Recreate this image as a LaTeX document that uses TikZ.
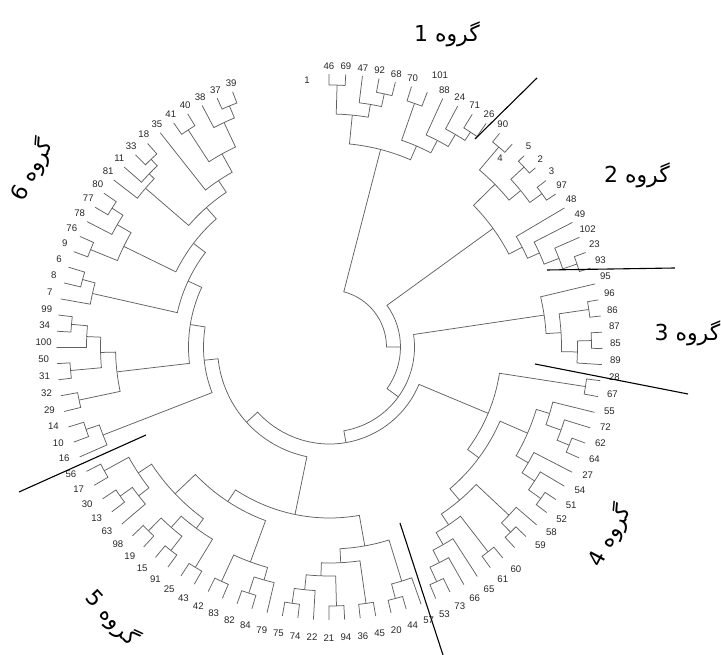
\documentclass[tikz,border=0pt]{standalone}
\usepackage{fontspec}
\setmainfont{Liberation Sans}
\newfontfamily\arabicfont[Script=Arabic]{DejaVu Sans}
\TeXXeTstate=1
\newcommand\leafang[2]{%
  \pgfmathsetmacro\lamv{93.5-3.40*#2}%
  \pgfmathsetmacro\thv{\lamv-2.0*cos(\lamv)}%
  \expandafter\xdef\csname A@#1\endcsname{\thv}%
  \expandafter\xdef\csname R@#1\endcsname{273}%
}
\newcommand\lf[3]{%
  \leafang{#1}{#2}%
  \pgfmathsetmacro\lxv{286*cos(\lamv)}%
  \pgfmathsetmacro\lyv{286*sin(\lamv)-5}%
  \node[lab] (t#1) at (\lxv pt,\lyv pt) {#3};%
}
\newcommand\nd[4]{%
  \edef\nda{\csname A@#2\endcsname}\edef\ndb{\csname A@#3\endcsname}%
  \edef\nra{\csname R@#2\endcsname}\edef\nrb{\csname R@#3\endcsname}%
  \pgfmathsetmacro\cmv{(\nda+\ndb)/2}%
  \expandafter\xdef\csname A@#1\endcsname{\cmv}%
  \expandafter\xdef\csname R@#1\endcsname{#4}%
  \draw[br] (\nda:\nra pt) -- (\nda:#4pt) arc[start angle=\nda,end angle=\ndb,radius=#4pt] -- (\ndb:\nrb pt);%
}
\tikzset{
  br/.style={draw=black!62, line width=0.75pt},
  lab/.style={font=\fontsize{9.6}{11}\selectfont, inner sep=0pt, text=black!85},
  sep/.style={draw=black, line width=1.1pt},
  grp/.style={font=\arabicfont\fontsize{22}{26}\selectfont, inner sep=0pt}
}
\begin{document}
\begin{tikzpicture}[x=1pt,y=1pt]
\useasboundingbox (-329.5,-308) rectangle (391.5,347);
% leaves
\node[lab] (t1) at (-22.5,267) {1};
\lf{l46}{1}{46}\lf{l69}{2}{69}\lf{l47}{3}{47}\lf{l92}{4}{92}\lf{l68}{5}{68}
\lf{l70}{6}{70}\leafang{l101}{7}\node[lab] (t101) at (110.5,272) {101};
\lf{l88}{8}{88}\lf{l24}{9}{24}\lf{l71}{10}{71}\lf{l26}{11}{26}
\lf{l90}{12}{90}\leafang{l4}{13}\node[lab] (t4) at (170.5,189) {4};
\lf{l5}{14}{5}\lf{l2}{15}{2}\lf{l3}{16}{3}\lf{l97}{17}{97}\lf{l48}{18}{48}\lf{l49}{19}{49}
\lf{l102}{20}{102}\lf{l23}{21}{23}\lf{l93}{22}{93}
\lf{l95}{23}{95}\lf{l96}{24}{96}\lf{l86}{25}{86}\lf{l87}{26}{87}\lf{l85}{27}{85}\lf{l89}{28}{89}
\lf{l28}{29}{28}\lf{l67}{30}{67}\lf{l55}{31}{55}\lf{l72}{32}{72}\lf{l62}{33}{62}\lf{l64}{34}{64}
\lf{l27}{35}{27}\lf{l54}{36}{54}\lf{l51}{37}{51}\lf{l52}{38}{52}\lf{l58}{39}{58}\lf{l59}{40}{59}
\leafang{lx}{41}\lf{l60}{42}{60}\lf{l61}{43}{61}\lf{l65}{44}{65}\lf{l66}{45}{66}\lf{l73}{46}{73}\lf{l53}{47}{53}
\lf{l57}{48}{57}\lf{l44}{49}{44}\lf{l20}{50}{20}\lf{l45}{51}{45}\lf{l36}{52}{36}\lf{l94}{53}{94}
\lf{l21}{54}{21}\lf{l22}{55}{22}\lf{l74}{56}{74}\lf{l75}{57}{75}\lf{l79}{58}{79}\lf{l84}{59}{84}
\lf{l82}{60}{82}\lf{l83}{61}{83}\lf{l42}{62}{42}\lf{l43}{63}{43}\lf{l25}{64}{25}\lf{l91}{65}{91}
\lf{l15}{66}{15}\lf{l19}{67}{19}\lf{l98}{68}{98}\lf{l63}{69}{63}\lf{l13}{70}{13}\lf{l30}{71}{30}
\lf{l17}{72}{17}\lf{l56}{73}{56}
\lf{l16}{74}{16}\lf{l10}{75}{10}\lf{l14}{76}{14}\lf{l29}{77}{29}\lf{l32}{78}{32}\lf{l31}{79}{31}
\lf{l50}{80}{50}\lf{l100}{81}{100}\lf{l34}{82}{34}\lf{l99}{83}{99}\lf{l7}{84}{7}\lf{l8}{85}{8}
\lf{l6}{86}{6}\lf{l9}{87}{9}\lf{l76}{88}{76}\lf{l78}{89}{78}\lf{l77}{90}{77}\lf{l80}{91}{80}
\lf{l81}{92}{81}\lf{l11}{93}{11}\lf{l33}{94}{33}\lf{l18}{95}{18}\lf{l35}{96}{35}\lf{l41}{97}{41}
\lf{l40}{98}{40}\lf{l38}{99}{38}\lf{l37}{100}{37}\lf{l39}{101}{39}
% group 1
\nd{a1}{l46}{l69}{262}\nd{b1}{l92}{l68}{259}\nd{c1}{l47}{b1}{246}\nd{d1}{a1}{c1}{233}
\nd{e1}{l70}{l101}{258}\nd{f1}{l71}{l26}{257}\nd{g1}{l24}{f1}{247}\nd{h1}{l88}{g1}{233}
\nd{i1}{e1}{h1}{219}\nd{G1}{d1}{i1}{204}
% group 2
\nd{a2}{l90}{l4}{262}\nd{b2}{l5}{l2}{265}\nd{c2}{l3}{l97}{262}\nd{d2}{b2}{c2}{247}
\nd{e2}{a2}{d2}{232}\nd{f2}{l23}{l93}{261}\nd{g2}{l102}{f2}{246}\nd{h2}{l49}{g2}{230}
\nd{i2}{l48}{h2}{217}\nd{G2}{e2}{i2}{202}
% group 3
\nd{a3}{l96}{l86}{262}\nd{b3}{l87}{l85}{262}\nd{c3}{b3}{l89}{248}\nd{d3}{a3}{c3}{232}
\nd{G3}{l95}{d3}{217}
% group 4
\nd{a4}{l28}{l67}{259}\nd{b4}{l62}{l64}{259}\nd{c4}{l72}{b4}{246}\nd{d4}{l55}{c4}{230}
\nd{e4}{l51}{l52}{260}\nd{f4}{l54}{e4}{245}\nd{g4}{l27}{f4}{230}\nd{h4}{d4}{g4}{216}
\nd{i4}{l59}{lx}{259}\nd{j4}{l58}{i4}{246}\nd{k4}{l60}{l61}{259}\nd{m4}{l73}{l53}{258}
\nd{n4}{l66}{m4}{242}\nd{o4}{l65}{n4}{228}\nd{p4}{k4}{o4}{214}\nd{q4}{j4}{p4}{201}
\nd{r4}{h4}{q4}{186}\nd{G4}{a4}{r4}{172}
% group 5
\nd{a5}{l44}{l20}{260}\nd{b5}{l57}{a5}{245}\nd{c5}{l45}{l36}{259}\nd{d5}{l94}{l21}{259}
\nd{e5}{l74}{l75}{259}\nd{f5}{l22}{e5}{244}\nd{g5}{d5}{f5}{229}\nd{h5}{c5}{g5}{216}
\nd{G5R}{b5}{h5}{202}
\nd{i5}{l84}{l82}{259}\nd{j5}{l79}{i5}{242}\nd{k5}{l83}{l42}{258}\nd{m5}{j5}{k5}{229}
\nd{n5}{l43}{l25}{258}\nd{o5}{l91}{l15}{258}\nd{p5}{l19}{l98}{258}\nd{q5}{o5}{p5}{240}
\nd{r5}{n5}{q5}{225}\nd{s5}{l13}{l30}{257}\nd{t5}{l63}{s5}{242}\nd{u5}{l17}{l56}{257}
\nd{v5}{t5}{u5}{229}\nd{w5}{r5}{v5}{213}\nd{G5L}{m5}{w5}{185}\nd{G5}{G5R}{G5L}{171}
% group 6
\nd{a6}{l10}{l14}{257}\nd{z1}{l16}{a6}{243}
\nd{b6}{l29}{l32}{256}\nd{c6}{l31}{l50}{260}\nd{d6}{l34}{l99}{259}\nd{e6}{l100}{d6}{243}
\nd{f6}{c6}{e6}{229}\nd{G6b}{b6}{f6}{214}
\nd{g6}{l8}{l6}{256}\nd{G6c}{l7}{g6}{243}
\nd{h6}{l9}{l76}{258}\nd{i6}{l77}{l80}{258}\nd{j6}{l78}{i6}{245}\nd{G6d}{h6}{j6}{229}
\nd{k6}{l33}{l18}{259}\nd{m6}{l11}{k6}{250}\nd{n6}{l81}{m6}{243}
\nd{p6}{l41}{l40}{259}\nd{q6}{l37}{l39}{261}\nd{r6}{l38}{q6}{248}\nd{s6}{p6}{r6}{221}
\nd{t6}{l35}{s6}{200}
% spine
\nd{Y9}{n6}{t6}{186}\nd{Y8}{G6d}{Y9}{171}\nd{Y7}{G6c}{Y8}{156}\nd{Y6}{G6b}{Y7}{141}
\nd{Y5}{z1}{Y6}{126}\nd{Y4}{G5}{Y5}{112}\nd{Y3}{G4}{Y4}{97}\nd{Y2}{G3}{Y3}{85}
\nd{Y1}{G2}{Y2}{71}\nd{Y0}{G1}{Y1}{57}
% separators
\coordinate (s1a) at (145.5,208); \coordinate (s1b) at (207.5,269);
\coordinate (s2a) at (217.5,77);  \coordinate (s2b) at (345.5,79);
\coordinate (s3a) at (205.5,-17); \coordinate (s3b) at (358.5,-47);
\coordinate (s4a) at (70.5,-176); \coordinate (s4b) at (113.5,-308);
\coordinate (s5a) at (-310.5,-145); \coordinate (s5b) at (-183.5,-88);
\draw[sep] (s1a) -- (s1b); \draw[sep] (s2a) -- (s2b); \draw[sep] (s3a) -- (s3b);
\draw[sep] (s4a) -- (s4b); \draw[sep] (s5a) -- (s5b);
% group titles
\node[grp] (g1) at (117.5,313) {\beginR گروه 1\endR};
\node[grp] (g2) at (307.5,172) {\beginR گروه 2\endR};
\node[grp] (g3) at (358,14) {\beginR گروه 3\endR};
\node[grp,rotate=62] (g4) at (280.5,-189) {\beginR گروه 4\endR};
\node[grp,rotate=-47] (g5) at (-217.5,-271) {\beginR گروه 5\endR};
\node[grp,rotate=63] (g6) at (-297.5,177) {\beginR گروه 6\endR};
\end{tikzpicture}
\end{document}
